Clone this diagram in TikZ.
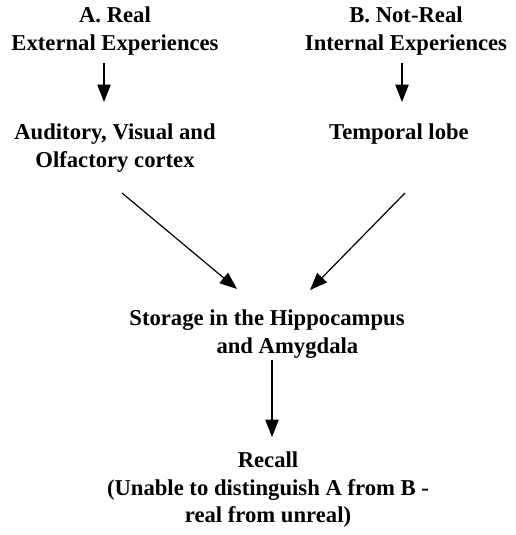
\documentclass[tikz,border=0pt]{standalone}
\usepackage{fontspec}
\setmainfont{Liberation Serif}
\usepackage{tikz}
\usetikzlibrary{arrows.meta}
\usetikzlibrary{calc}

\tikzset{
  txt/.style={align=center,inner sep=0pt,font=\bfseries\fontsize{17pt}{20.6pt}\selectfont},
  flow/.style={line width=0.9pt,-{Triangle[length=13pt,width=10pt]}}
}

\begin{document}
\begin{tikzpicture}[x=0.75pt,y=0.75pt,yscale=-1,xscale=1]
\useasboundingbox (0,0) rectangle (515,535); %set diagram size 515 x 535

% Text Node
\node[txt] (realA) at (115,31) {A. Real\\External Experiences};
% Text Node
\node[txt] (sensA) at (115,148) {Auditory, Visual and\\Olfactory cortex};
% Text Node
\node[txt] (realB) at (406,31) {B. Not-Real\\Internal Experiences};
% Text Node
\node[txt] (lobeB) at (399,134) {Temporal lobe};
% Text Node
\node[txt] (store) at (267,334) {Storage in the Hippocampus\\\hspace*{1.8em}and Amygdala};
% Text Node
\node[txt] (recall) at (268,490) {Recall\\(Unable to distinguish A from B -\\real from unreal)};

%Straight Lines
\draw[flow] ($(realA)+(-11,32)$) -- ($(sensA)+(-11,-46)$);
%Straight Lines
\draw[flow] ($(realB)+(-4,32)$) -- ($(lobeB)+(3,-32)$);
%Straight Lines
\draw[flow] ($(sensA)+(7,45)$) -- ($(store)+(-30,-45)$);
%Straight Lines
\draw[flow] ($(lobeB)+(6,59)$) -- ($(store)+(43,-44)$);
%Straight Lines
\draw[flow] ($(store)+(5,26)$) -- ($(recall)+(4,-53)$);

\end{tikzpicture}
\end{document}
